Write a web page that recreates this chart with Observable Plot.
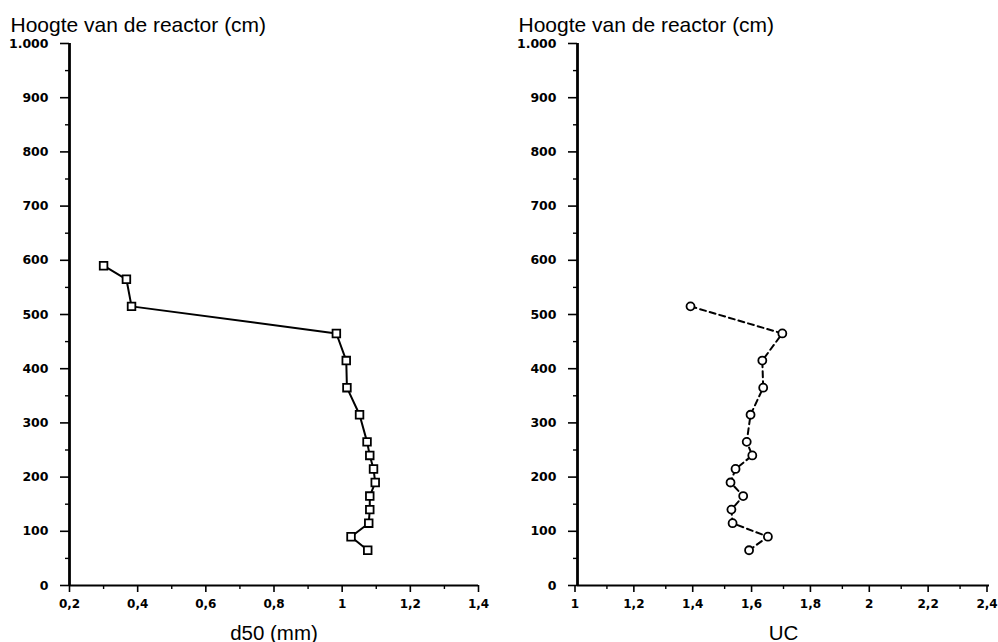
<!DOCTYPE html>
<html>
<head>
<meta charset="utf-8">
<script src="https://cdn.jsdelivr.net/npm/d3@7"></script>
<script src="https://cdn.jsdelivr.net/npm/@observablehq/plot@0.6"></script>
<style>
  html, body { margin: 0; padding: 0; background: #fff; }
  #wrap { position: relative; width: 998px; height: 642px; overflow: hidden; }
  #left, #right { position: absolute; top: 0; width: 499px; height: 642px; }
  #left { left: 0; }
  #right { left: 499px; }
</style>
</head>
<body>
<div id="wrap"><div id="left"></div><div id="right"></div></div>
<script>
// ---- data ----
const heightsD50 = [590, 565, 515, 465, 415, 365, 315, 265, 240, 215, 190, 165, 140, 115, 90, 65];
const d50 = [0.30, 0.367, 0.382, 0.983, 1.012, 1.014, 1.051, 1.073, 1.081, 1.092, 1.097, 1.081, 1.081, 1.078, 1.026, 1.075];

const heightsUC = [515, 465, 415, 365, 315, 265, 240, 215, 190, 165, 140, 115, 90, 65];
const uc = [1.384, 1.696, 1.628, 1.631, 1.588, 1.575, 1.594, 1.537, 1.52, 1.563, 1.523, 1.527, 1.647, 1.583];

const yTicks = [0, 100, 200, 300, 400, 500, 600, 700, 800, 900, 1000];
const yTickLabels = ["0", "100", "200", "300", "400", "500", "600", "700", "800", "900", "1.000"];
const yMinor = [50, 150, 250, 350, 450, 550, 650, 750, 850, 950];

const xTicksLeft = [0.2, 0.4, 0.6, 0.8, 1.0, 1.2, 1.4];
const xTickLabelsLeft = ["0,2", "0,4", "0,6", "0,8", "1", "1,2", "1,4"];
const xMinorLeft = [0.3, 0.5, 0.7, 0.9, 1.1, 1.3];

const xTicksRight = [1.0, 1.2, 1.4, 1.6, 1.8, 2.0, 2.2, 2.4];
const xTickLabelsRight = ["1", "1,2", "1,4", "1,6", "1,8", "2", "2,2", "2,4"];
const xMinorRight = [1.1, 1.3, 1.5, 1.7, 1.9, 2.1, 2.3];

const yTitle = "Hoogte van de reactor (cm)";
const xTitleLeft = "d50 (mm)";
const xTitleRight = "UC";

// ---- chart ----
function panel({xs, ys, xDomain, xTicks, xLabels, xMinor, xTitle, symbol, dash, marginLeft, marginRight, xdx}) {
  const rows = xs.map((x, i) => ({x, y: ys[i]}));
  const yFmt = d => yTickLabels[yTicks.indexOf(d)];
  const xFmt = d => xLabels[xTicks.indexOf(d)];
  const tickFont = {fontFamily: "DejaVu Sans", fontWeight: "bold"};
  return Plot.plot({
    width: 499,
    height: 642,
    marginTop: 43,
    marginBottom: 57,
    marginLeft,
    marginRight,
    style: {fontFamily: "DejaVu Sans", fontWeight: "bold", fontSize: "12.5px", background: "#fff", color: "#000", overflow: "visible"},
    x: {domain: xDomain, label: null},
    y: {domain: [0, 1000], label: null},
    marks: [
      Plot.axisY(yTicks, {tickSize: 9, tickPadding: 12, strokeWidth: 1.6, tickFormat: yFmt, label: null, fontSize: 12.5, ...tickFont}),
      Plot.axisY(yMinor, {tickSize: 4, text: null, strokeWidth: 1.4, label: null}),
      Plot.axisX(xTicks, {tickSize: 7, tickPadding: 7, strokeWidth: 1.6, tickFormat: xFmt, label: null, fontSize: 12, dx: xdx, ...tickFont}),
      Plot.axisX(xMinor, {tickSize: 4, text: null, strokeWidth: 1.4, label: null}),
      Plot.ruleX([xDomain[0]], {y1: 0, y2: 1000, strokeWidth: 2.8}),
      Plot.ruleY([0], {x1: xDomain[0], x2: xDomain[1], strokeWidth: 2.2}),
      Plot.line(rows, {x: "x", y: "y", stroke: "#000", strokeWidth: 2, strokeDasharray: dash}),
      Plot.dot(rows, {x: "x", y: "y", symbol, r: symbol === "square" ? 4.3 : 4, stroke: "#000", strokeWidth: 1.8, fill: "#fff"}),
      Plot.text([yTitle], {frameAnchor: "top-left", text: d => d, dx: -59, dy: -12, lineAnchor: "bottom", textAnchor: "start",
        fontFamily: "Liberation Sans, Arial, sans-serif", fontWeight: "normal", fontSize: 21, fill: "#000"}),
      Plot.text([xTitle], {frameAnchor: "bottom", text: d => d, dy: 54, lineAnchor: "bottom", textAnchor: "middle",
        fontFamily: "Liberation Sans, Arial, sans-serif", fontWeight: "normal", fontSize: 20.5, fill: "#000"})
    ]
  });
}

document.getElementById("left").append(panel({
  xs: d50, ys: heightsD50, xDomain: [0.2, 1.4], xTicks: xTicksLeft, xLabels: xTickLabelsLeft, xMinor: xMinorLeft,
  xTitle: xTitleLeft, symbol: "square", dash: null, marginLeft: 69, marginRight: 21, xdx: 0
}));
document.getElementById("right").append(panel({
  xs: uc, ys: heightsUC, xDomain: [1, 2.4], xTicks: xTicksRight, xLabels: xTickLabelsRight, xMinor: xMinorRight,
  xTitle: xTitleRight, symbol: "circle", dash: "6,4", marginLeft: 78, marginRight: 9, xdx: -2.5
}));
</script>
</body>
</html>
